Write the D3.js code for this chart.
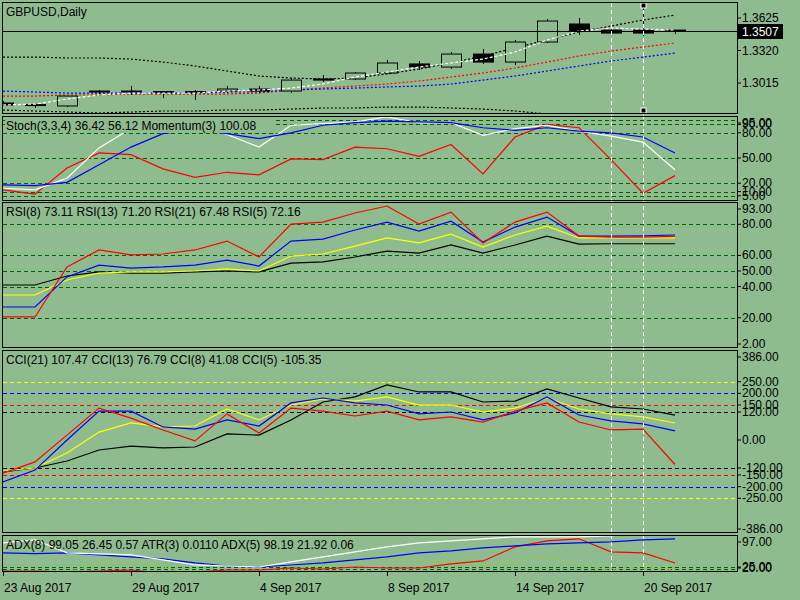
<!DOCTYPE html>
<html><head><meta charset="utf-8">
<script src="https://cdn.jsdelivr.net/npm/d3@7"></script>
<style>body{margin:0;background:#8fbc8f}svg{display:block;font-family:"Liberation Sans",Arial,sans-serif}</style>
</head><body>
<script>
// bars: 23 Aug .. 21 Sep 2017
const dates = ["23 Aug","24 Aug","25 Aug","28 Aug","29 Aug","30 Aug","31 Aug","1 Sep","4 Sep","5 Sep","6 Sep","7 Sep","8 Sep","11 Sep","12 Sep","13 Sep","14 Sep","15 Sep","18 Sep","19 Sep","20 Sep","21 Sep"];
const open  = [1.2828,1.2809,1.2800,1.2931,1.2940,1.2931,1.2931,1.2940,1.2959,1.2940,1.3053,1.3053,1.3109,1.3194,1.3165,1.3287,1.3212,1.3400,1.3569,1.3512,1.3512,1.3512];
const high  = [1.2846,1.2828,1.2893,1.2950,1.2987,1.2940,1.2950,1.2987,1.2987,1.3062,1.3090,1.3118,1.3231,1.3222,1.3306,1.3334,1.3419,1.3616,1.3625,1.3515,1.3747,1.3512];
const low   = [1.2800,1.2781,1.2790,1.2893,1.2903,1.2875,1.2856,1.2921,1.2921,1.2921,1.3025,1.3043,1.3100,1.3137,1.3147,1.3194,1.3184,1.3390,1.3466,1.3480,1.3456,1.3475];
const close = [1.2809,1.2813,1.2893,1.2940,1.2931,1.2935,1.2935,1.2959,1.2940,1.3043,1.3043,1.3109,1.3203,1.3165,1.3287,1.3212,1.3400,1.3597,1.3503,1.3484,1.3484,1.3503];
const bbUpper = [1.3259,1.3259,1.3250,1.3250,1.3240,1.3212,1.3175,1.3128,1.3081,1.3062,1.3053,1.3062,1.3100,1.3147,1.3203,1.3269,1.3344,1.3419,1.3494,1.3550,1.3606,1.3653];
const bbLower = [1.2762,1.2753,1.2743,1.2734,1.2743,1.2753,1.2753,1.2762,1.2762,1.2771,1.2781,1.2781,1.2790,1.2790,1.2781,1.2771,1.2753,1.2725,1.2687,1.2650,1.2612,1.2575];
const maRed   = [1.2893,1.2893,1.2903,1.2903,1.2912,1.2912,1.2912,1.2912,1.2921,1.2950,1.2968,1.2987,1.3006,1.3034,1.3072,1.3109,1.3156,1.3212,1.3269,1.3315,1.3353,1.3390];
const maBlue  = [1.2940,1.2931,1.2921,1.2921,1.2921,1.2921,1.2921,1.2931,1.2931,1.2950,1.2959,1.2968,1.2978,1.2987,1.3006,1.3043,1.3081,1.3128,1.3175,1.3222,1.3259,1.3297];
const maWhite = [1.2809,1.2818,1.2865,1.2903,1.2921,1.2921,1.2921,1.2940,1.2950,1.2968,1.3006,1.3072,1.3118,1.3165,1.3203,1.3240,1.3306,1.3419,1.3503,1.3531,1.3522,1.3512];
const priceTicks = [1.3625,1.3320,1.3015];
const lastPrice = 1.3507;

const stochMain   = [14,12,26,62,85,90,92,78,63,89,91,93,99,92,92,77,85,89,82,76,69,36];
const stochSignal = [18,17,21,42,63,79,84,79,73,80,89,92,94,93,92,86,83,86,82,80,75,56];
const momentum    = [12,7,38,56,54,37,27,33,30,49,48,63,61,52,66,31,75,90,86,48,8,29];
const stochLevels = [95,90,80,50,20,10,5];

const rsi5  = [20.5,20.5,52.6,63.5,60.3,60.9,63.5,69.2,59,80.1,81.4,87.2,91.7,80.1,87.8,68,81.4,87.8,72.4,71.8,71.8,72.2];
const rsi8  = [26.9,26.9,46.2,53.8,51.9,52.6,53.8,57,53.2,69.2,70.5,76.3,81.4,75.6,82,68.6,78.2,84.6,72.4,72.4,72.6,73.1];
const rsi13 = [34.6,34.6,44.2,48.7,49.4,49.4,50,51.3,50,59.6,60.9,66,71.2,68,73.7,65.4,73.1,78.8,71.2,71.2,71.2,71.2];
const rsi21 = [41,41,46.8,49.4,48.7,48.7,49.4,50,49.4,55.1,55.8,59,62.8,61.5,66.7,61.5,66.7,72.4,67.3,67.5,67.5,67.5];
const rsiLevels = [80,60,50,40,20];
const rsiLabels = [93,80,60,50,40,20,2];

const cci5  = [-142,-94,21,137,94,43,-4,112,30,137,124,103,124,86,99,77,124,159,77,43,47,-105];
const cci8  = [-180,-129,0,124,124,56,47,86,60,159,180,159,150,112,120,86,116,185,107,82,69,39];
const cci13 = [-133,-120,-56,34,73,56,60,133,86,150,176,167,185,150,150,120,137,180,133,112,99,73];
const cci21 = [-137,-120,-90,-43,-26,-34,-30,26,21,86,163,185,236,206,206,163,167,219,180,142,133,107];
const cciLevels = [[120,"#000"],[150,"#f00"],[200,"#00f"],[250,"#ff0"]];
const cciLabels = [386,250,200,150,120,0,-120,-150,-200,-250,-386];

const adxWhite = [85,92.5,60,57.5,55,42.5,30,27.5,25,37.5,50,62.5,75,85,90,95,100,100,100,102.5,110,115];
const adxBlue  = [60,58,60,55,50,45,35,27.5,25,30,35,42.5,50,60,65,72.5,77.5,82.5,85,87.5,92.5,95];
const adxRed   = [15,15,12.5,15,17.5,10,12.5,17.5,17.5,22.5,20,25,22.5,22.5,32.5,40,75,90,95,62.5,60,35];
const atr      = [5,5,15,35,42.5,25,10,10,10,20,30,40,47.5,42.5,37.5,30,40,50,32.5,17.5,27.5,17.5];
const adxLevels = [25,20];

const dateTicks = [0,4,8,12,16,20];
const dateTickText = ["23 Aug 2017","29 Aug 2017","4 Sep 2017","8 Sep 2017","14 Sep 2017","20 Sep 2017"];

const W = 800, H = 600, L = 3, R = 737;
const svg = d3.select("body").append("svg").attr("width", W).attr("height", H);
svg.append("rect").attr("width", W).attr("height", H).attr("fill", "#8fbc8f");

const x = d3.scaleLinear().domain([0, 21]).range([3, 675]);
const idx = d3.range(dates.length);

// panels: top, bottom, y scale
const panels = [
  {id: "main", t: 3, b: 113, y: d3.scaleLinear().domain([1.2734, 1.3766]).range([113, 3])},
  {id: "stoch", t: 117, b: 200, y: d3.scaleLinear().domain([0, 100]).range([200, 116])},
  {id: "rsi", t: 203, b: 347, y: d3.scaleLinear().domain([50, 93]).range([271, 204])},
  {id: "cci", t: 351, b: 532, y: d3.scaleLinear().domain([0, 386]).range([440, 350])},
  {id: "adx", t: 536, b: 571, y: d3.scaleLinear().domain([20, 97]).range([569, 538])}
];
const P = {};
panels.forEach(p => {
  P[p.id] = p;
  svg.append("clipPath").attr("id", "c" + p.id).append("rect")
    .attr("x", L).attr("y", p.t).attr("width", R - L).attr("height", p.b - p.t);
  p.g = svg.append("g").attr("clip-path", "url(#c" + p.id + ")");
});

function level(p, v, color) {
  p.g.append("line").attr("x1", L).attr("x2", R).attr("y1", Math.round(p.y(v)) + .5).attr("y2", Math.round(p.y(v)) + .5)
    .attr("stroke", color).attr("stroke-dasharray", "4,3");
}
function series(p, vals, color, dash) {
  p.g.append("path").datum(vals)
    .attr("d", d3.line().x((d, i) => x(i)).y(d => p.y(d)))
    .attr("fill", "none").attr("stroke", color).attr("stroke-width", 1.2)
    .attr("stroke-dasharray", dash || null);
}
function rlabel(p, v, txt) {
  const yy = Math.max(p.t + 6, Math.min(p.b - 3, p.y(v)));
  svg.append("line").attr("x1", R).attr("x2", R + 4).attr("y1", yy).attr("y2", yy).attr("stroke", "#000");
  svg.append("text").attr("x", R + 5).attr("y", yy + 4).attr("font-size", 12).text(txt);
}
function title(p, txt) {
  svg.append("text").attr("x", 6).attr("y", p.t + 13).attr("font-size", 12).text(txt);
}

// main panel
const m = P.main;
series(m, bbUpper, "#000", "2,2");
series(m, bbLower, "#000", "2,2");
series(m, maRed, "#f00", "2,2");
series(m, maBlue, "#00f", "2,2");
const cw = 20;
idx.forEach(i => {
  const up = close[i] >= open[i];
  m.g.append("line").attr("x1", x(i) + .5).attr("x2", x(i) + .5)
    .attr("y1", m.y(high[i])).attr("y2", m.y(low[i])).attr("stroke", "#000");
  const y0 = m.y(Math.max(open[i], close[i])), y1 = m.y(Math.min(open[i], close[i]));
  m.g.append("rect").attr("x", x(i) - cw / 2 + .5).attr("y", y0)
    .attr("width", cw).attr("height", Math.max(1, y1 - y0))
    .attr("fill", up ? "#8fbc8f" : "#000").attr("stroke", "#000");
});
series(m, maWhite, "#fff", "3,2");
m.g.append("line").attr("x1", L).attr("x2", R).attr("y1", Math.round(m.y(lastPrice)) + .5).attr("y2", Math.round(m.y(lastPrice)) + .5).attr("stroke", "#000");
priceTicks.forEach(v => rlabel(m, v, v.toFixed(4)));
const ly = Math.round(m.y(lastPrice));
svg.append("rect").attr("x", R + 1).attr("y", ly - 7).attr("width", 45).attr("height", 15).attr("fill", "#000");
svg.append("text").attr("x", R + 5).attr("y", ly + 5).attr("font-size", 12).attr("fill", "#fff").text(lastPrice.toFixed(4));
title(m, "GBPUSD,Daily");

// stochastic
const s = P.stoch;
stochLevels.forEach(v => level(s, v, "#006400"));
series(s, momentum, "#f00");
series(s, stochMain, "#fff");
series(s, stochSignal, "#00f");
stochLevels.forEach(v => rlabel(s, v, v.toFixed(2)));
svg.append("rect").attr("x", 5).attr("y", s.t + 2).attr("width", 270).attr("height", 14).attr("fill", "#8fbc8f");
title(s, "Stoch(3,3,4) 36.42 56.12 Momentum(3) 100.08");

// RSI
const r = P.rsi;
rsiLevels.forEach(v => level(r, v, "#006400"));
series(r, rsi21, "#000");
series(r, rsi13, "#ff0");
series(r, rsi8, "#00f");
series(r, rsi5, "#f00");
rsiLabels.forEach(v => rlabel(r, v, v.toFixed(2)));
title(r, "RSI(8) 73.11 RSI(13) 71.20 RSI(21) 67.48 RSI(5) 72.16");

// CCI
const c = P.cci;
cciLevels.forEach(([v, col]) => { level(c, v, col); level(c, -v, col); });
series(c, cci21, "#000");
series(c, cci13, "#ff0");
series(c, cci8, "#00f");
series(c, cci5, "#f00");
cciLabels.forEach(v => rlabel(c, v, v.toFixed(2)));
title(c, "CCI(21) 107.47 CCI(13) 76.79 CCI(8) 41.08 CCI(5) -105.35");

// ADX
const a = P.adx;
adxLevels.forEach(v => level(a, v, "#006400"));
series(a, atr, "#9acd32", "2,2");
series(a, adxRed, "#f00");
series(a, adxBlue, "#00f");
series(a, adxWhite, "#fff");
rlabel(a, 97, "97.00");
adxLevels.forEach(v => rlabel(a, v, v.toFixed(2)));
title(a, "ADX(8) 99.05 26.45 0.57 ATR(3) 0.0110 ADX(5) 98.19 21.92 0.06");

// vertical crosshair lines
[19, 20].forEach(i => {
  svg.append("line").attr("x1", Math.round(x(i)) + .5).attr("x2", Math.round(x(i)) + .5)
    .attr("y1", 3).attr("y2", 571).attr("stroke", "#fff").attr("stroke-dasharray", "4,3");
});
[5, 110].forEach(yy => svg.append("rect").attr("x", x(20) - 2).attr("y", yy - 2).attr("width", 5).attr("height", 5)
  .attr("fill", "#000").attr("stroke", "#fff"));

// frames
panels.forEach(p => {
  svg.append("rect").attr("x", L - .5).attr("y", p.t - .5).attr("width", R - L + 1).attr("height", p.b - p.t + 1)
    .attr("fill", "none").attr("stroke", "#000");
});

// date axis
dateTicks.forEach((i, k) => {
  svg.append("line").attr("x1", x(i) + .5).attr("x2", x(i) + .5).attr("y1", 571).attr("y2", 576).attr("stroke", "#000");
  svg.append("text").attr("x", x(i) + 1).attr("y", 592).attr("font-size", 12).text(dateTickText[k]);
});
</script>
</body></html>
